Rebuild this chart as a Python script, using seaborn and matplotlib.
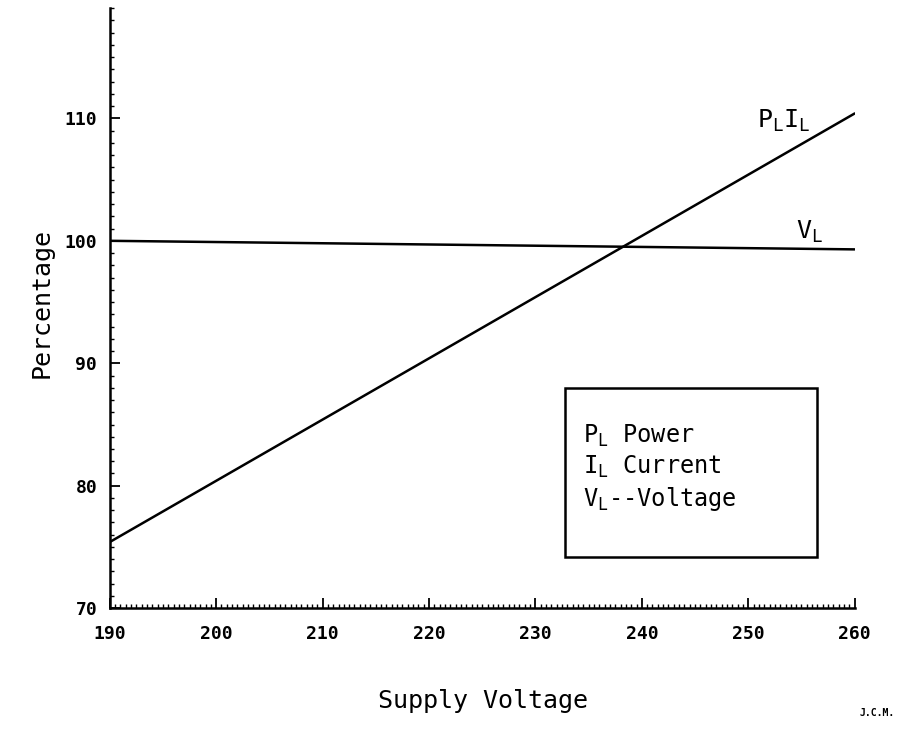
import numpy as np
import pandas as pd
import matplotlib.pyplot as plt
import seaborn as sns
from matplotlib.ticker import MultipleLocator

# valores
supply_voltage = [190, 260]
power_current = [75.4, 110.4]
load_voltage = [100.0, 99.3]
x_ticks = [190, 200, 210, 220, 230, 240, 250, 260]
y_ticks = [70, 80, 90, 100, 110]

df = pd.DataFrame({
    'Supply Voltage': supply_voltage * 2,
    'Percentage': power_current + load_voltage,
    'serie': ['PI'] * 2 + ['V'] * 2,
})

sns.set_style('white')
plt.rcParams['font.family'] = ['DejaVu Sans Mono', 'DejaVu Sans']
plt.rcParams['text.color'] = 'black'
plt.rcParams['xtick.color'] = 'black'
plt.rcParams['ytick.color'] = 'black'

fig = plt.figure(figsize=(9.22, 7.39), dpi=100)
ax = fig.add_axes([0.119, 0.177, 0.808, 0.812])

sns.lineplot(data=df, x='Supply Voltage', y='Percentage', units='serie',
             estimator=None, color='black', linewidth=1.8, ax=ax)

ax.set_xlim(190, 260)
ax.set_ylim(70, 119)
ax.set_xticks(x_ticks)
ax.set_yticks(y_ticks)
ax.xaxis.set_minor_locator(MultipleLocator(0.5))
ax.yaxis.set_minor_locator(MultipleLocator(1))
ax.tick_params(which='major', direction='in', length=7, width=1.3,
               labelsize=13)
ax.tick_params(axis='x', which='major', pad=12)
ax.tick_params(axis='y', which='major', pad=9)
ax.tick_params(which='minor', direction='in', length=3, width=1.0)
ax.tick_params(axis='x', bottom=True, which='both')
ax.tick_params(axis='y', left=True, which='both')
for lab in ax.get_xticklabels() + ax.get_yticklabels():
    lab.set_fontweight('bold')

for s in ['top', 'right']:
    ax.spines[s].set_visible(False)
for s in ['left', 'bottom']:
    ax.spines[s].set_linewidth(1.8)
    ax.spines[s].set_color('black')

ax.set_xlabel('')
ax.set_ylabel('')
fig.text(0.045, 0.59, 'Percentage', rotation=90, fontsize=18,
         ha='center', va='center')
fig.text(0.524, 0.052, 'Supply Voltage', fontsize=18,
         ha='center', va='center')
fig.text(0.97, 0.035, 'J.C.M.', fontsize=7, fontweight='bold',
         ha='right', va='center')

# etiquetas das curvas
ax.text(250.8, 109.8, r'P$_\mathregular{L}$I$_\mathregular{L}$', fontsize=18,
        ha='left', va='center')
ax.text(254.5, 100.7, r'V$_\mathregular{L}$', fontsize=18,
        ha='left', va='center')

# caixa da legenda
ax.add_patch(plt.Rectangle((232.8, 74.2), 23.7, 13.8, fill=False,
                           edgecolor='black', linewidth=1.8))
ax.text(234.5, 84.1, r'P$_\mathregular{L}$ Power', fontsize=17, va='center')
ax.text(234.5, 81.5, r'I$_\mathregular{L}$ Current', fontsize=17, va='center')
ax.text(234.5, 78.9, r'V$_\mathregular{L}$--Voltage', fontsize=17, va='center')

fig.savefig('out.png', dpi=100)
